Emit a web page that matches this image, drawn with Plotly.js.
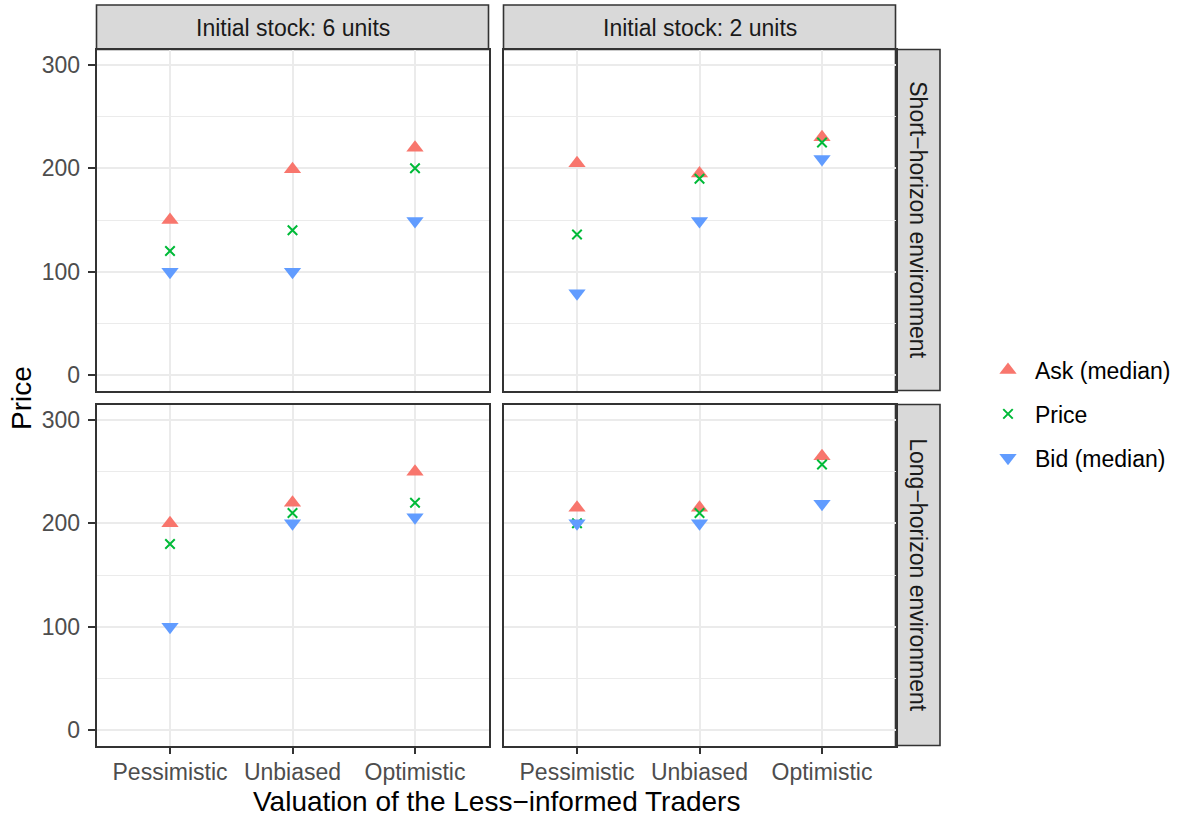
<!DOCTYPE html>
<html>
<head>
<meta charset="utf-8">
<script src="https://cdn.plot.ly/plotly-3.0.1.min.js"></script>
<style>html,body{margin:0;padding:0;background:#fff;}#chart{width:1180px;height:818px;}</style>
</head>
<body>
<div id="chart"></div>
<script>
// ---- data ----
const categories = ['Pessimistic', 'Unbiased', 'Optimistic'];
const stockLabels = ['Initial stock: 6 units', 'Initial stock: 2 units'];
const horizonLabels = ['Short\u2212horizon environment', 'Long\u2212horizon environment'];
const seriesNames = ['Ask (median)', 'Price', 'Bid (median)'];

// Short-horizon, 6 units
const askShort6 = [150, 199, 220];
const priceShort6 = [120, 140, 200];
const bidShort6 = [100, 100, 149];
// Short-horizon, 2 units
const askShort2 = [205, 195, 230];
const priceShort2 = [136, 190, 225];
const bidShort2 = [79, 149, 209];
// Long-horizon, 6 units
const askLong6 = [200, 220, 250];
const priceLong6 = [180, 210, 220];
const bidLong6 = [100, 200, 206];
// Long-horizon, 2 units
const askLong2 = [215, 215, 265];
const priceLong2 = [200, 210, 257];
const bidLong2 = [200, 200, 219];

const yTickVals = [0, 100, 200, 300];

// ---- styling ----
const W = 1180, H = 818;
const px = x => x / W;
const py = y => 1 - y / H;
const colors = ['#F8766D', '#00BA38', '#619CFF'];
const symbols = ['triangle-up', 'x-thin', 'triangle-down'];
const FONT = 'Liberation Sans, Arial, Helvetica, sans-serif';
const TXT = 23;

const panels = [
  {ax: '', data: [askShort6, priceShort6, bidShort6]},
  {ax: '2', data: [askShort2, priceShort2, bidShort2]},
  {ax: '3', data: [askLong6, priceLong6, bidLong6]},
  {ax: '4', data: [askLong2, priceLong2, bidLong2]}
];

const traces = [];
panels.forEach((p, pi) => {
  p.data.forEach((vals, si) => {
    const isX = symbols[si] === 'x-thin';
    traces.push({
      type: 'scatter', mode: 'markers',
      x: categories, y: vals,
      xaxis: 'x' + p.ax, yaxis: 'y' + p.ax,
      name: seriesNames[si],
      legendgroup: seriesNames[si],
      showlegend: pi === 0,
      marker: isX ? {symbol: 'x-thin', size: 9.5, color: colors[si], line: {color: colors[si], width: 2}}
                  : {symbol: symbols[si], size: 15, color: colors[si], line: {width: 0}},
      hoverinfo: 'x+y+name'
    });
  });
});

const colX = [[96.5, 488.5], [503.5, 895.5]];
const rowY = [[49.5, 390.5], [404.5, 745.5]];
const stripTop = 5;
const stripRight = 940;

function xAxis(col, row) {
  const bottom = row === 1;
  return {
    type: 'category', categoryarray: categories, range: [-0.6, 2.6],
    domain: [px(colX[col][0]), px(colX[col][1])],
    anchor: 'y' + (row * 2 + col === 0 ? '' : String(row * 2 + col + 1)),
    showgrid: true, gridcolor: '#ebebeb', gridwidth: 2,
    showline: true, mirror: true, linecolor: '#333333', linewidth: 1.6,
    ticks: bottom ? 'outside' : '', ticklen: 7, tickwidth: 1.6, tickcolor: '#333333',
    showticklabels: bottom, ticklabelstandoff: -2,
    tickfont: {family: FONT, size: TXT, color: '#4d4d4d'},
    zeroline: false, fixedrange: true
  };
}
function yAxis(col, row) {
  const left = col === 0;
  return {
    range: [-15, 315],
    domain: [py(rowY[row][1]), py(rowY[row][0])],
    anchor: 'x' + (row * 2 + col === 0 ? '' : String(row * 2 + col + 1)),
    tickvals: yTickVals,
    showgrid: true, gridcolor: '#ebebeb', gridwidth: 2,
    minor: {dtick: 50, tick0: 0, showgrid: true, gridcolor: '#ebebeb', gridwidth: 1, ticks: ''},
    showline: true, mirror: true, linecolor: '#333333', linewidth: 1.6,
    ticks: left ? 'outside' : '', ticklen: 7, tickwidth: 1.6, tickcolor: '#333333',
    showticklabels: left, ticklabelstandoff: 3,
    tickfont: {family: FONT, size: TXT, color: '#4d4d4d'},
    zeroline: false, fixedrange: true
  };
}

const shapes = [];
const annotations = [];
// column strips
colX.forEach((c, i) => {
  shapes.push({type: 'rect', xref: 'paper', yref: 'paper', x0: px(c[0]), x1: px(c[1]), y0: py(rowY[0][0]), y1: py(stripTop),
    fillcolor: '#d9d9d9', line: {color: '#333333', width: 1.6}, layer: 'below'});
  annotations.push({xref: 'paper', yref: 'paper', x: px((c[0] + c[1]) / 2), y: py((stripTop + rowY[0][0]) / 2 + 0.5), text: stockLabels[i],
    showarrow: false, xanchor: 'center', yanchor: 'middle', font: {family: FONT, size: TXT, color: '#1a1a1a'}});
});
// row strips
rowY.forEach((r, i) => {
  shapes.push({type: 'rect', xref: 'paper', yref: 'paper', x0: px(colX[1][1]), x1: px(stripRight), y0: py(r[1]), y1: py(r[0]),
    fillcolor: '#d9d9d9', line: {color: '#333333', width: 1.6}, layer: 'below'});
  annotations.push({xref: 'paper', yref: 'paper', x: px((colX[1][1] + stripRight) / 2), y: py((r[0] + r[1]) / 2), text: horizonLabels[i],
    textangle: 90, showarrow: false, xanchor: 'center', yanchor: 'middle', font: {family: FONT, size: TXT, color: '#1a1a1a'}});
});
// axis titles
annotations.push({xref: 'paper', yref: 'paper', x: px(496), y: py(801), text: 'Valuation of the Less\u2212informed Traders',
  showarrow: false, xanchor: 'center', yanchor: 'middle', font: {family: FONT, size: 28, color: '#000000'}});
annotations.push({xref: 'paper', yref: 'paper', x: px(21), y: py(398), text: 'Price', textangle: -90,
  showarrow: false, xanchor: 'center', yanchor: 'middle', font: {family: FONT, size: 28, color: '#000000'}});

const layout = {
  width: W, height: H,
  margin: {l: 0, r: 0, t: 0, b: 0},
  paper_bgcolor: '#ffffff', plot_bgcolor: '#ffffff',
  font: {family: FONT, size: TXT, color: '#000000'},
  xaxis: xAxis(0, 0), yaxis: yAxis(0, 0),
  xaxis2: xAxis(1, 0), yaxis2: yAxis(1, 0),
  xaxis3: xAxis(0, 1), yaxis3: yAxis(0, 1),
  xaxis4: xAxis(1, 1), yaxis4: yAxis(1, 1),
  shapes: shapes, annotations: annotations,
  showlegend: true,
  legend: {x: px(981), y: py(414), xanchor: 'left', yanchor: 'middle', traceorder: 'grouped', tracegroupgap: 11,
    itemwidth: 44,
    font: {family: FONT, size: TXT, color: '#000000'}, bgcolor: 'rgba(0,0,0,0)', borderwidth: 0},
  hovermode: 'closest'
};

Plotly.newPlot('chart', traces, layout, {displayModeBar: false, staticPlot: false});
</script>
</body>
</html>
